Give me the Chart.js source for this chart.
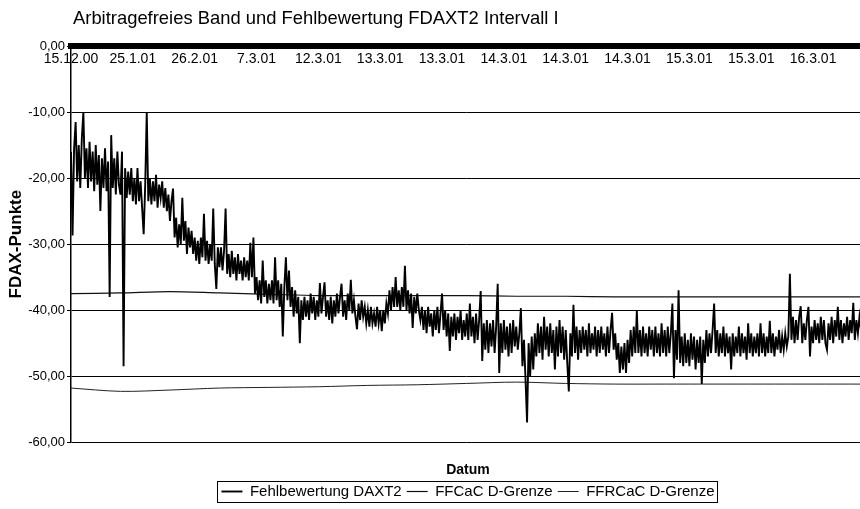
<!DOCTYPE html>
<html>
<head>
<meta charset="utf-8">
<title>Arbitragefreies Band und Fehlbewertung FDAXT2 Intervall I</title>
<script src="https://cdn.jsdelivr.net/npm/chart.js"></script>
<style>
    html, body { margin: 0; padding: 0; background: #fff; overflow: hidden; }
    #wrap { width: 936px; height: 509px; }
</style>
</head>
<body>
<div id="wrap"><canvas id="fdaxChart"></canvas></div>
<script>
// Datumsbeschriftung (alle 40 Werte eine)
const dateLabels = [
    '15.12.00', '25.1.01', '26.2.01', '7.3.01', '12.3.01',
    '13.3.01', '13.3.01', '14.3.01', '14.3.01', '14.3.01',
    '15.3.01', '15.3.01', '16.3.01'
];

// Fehlbewertung DAXT2 (32 Werte je Zeile)
const fehlbewertung = [
    -16.0, -28.7, -15.5, -11.5, -20.5, -15.0, -21.5, -14.0, -10.0, -20.0, -15.5, -21.5, -14.5, -20.5, -16.0, -22.0,
    -15.0, -21.0, -16.5, -25.0, -17.0, -21.5, -15.5, -22.0, -17.5, -38.0, -13.5, -21.5, -17.0, -22.5, -16.0, -21.0,
    -22.5, -16.0, -48.5, -18.5, -23.0, -19.0, -22.5, -18.5, -23.5, -20.0, -24.0, -18.5, -23.5, -20.5, -24.5, -28.5,
    -21.0, -10.0, -23.5, -20.0, -24.0, -20.5, -23.5, -19.5, -24.5, -21.0, -23.0, -20.5, -24.5, -21.5, -25.0, -22.5,
    -26.5, -23.5, -21.6, -29.0, -26.0, -30.5, -27.0, -30.0, -23.0, -29.5, -26.5, -31.5, -27.5, -30.5, -28.0, -31.5,
    -29.0, -32.5, -29.5, -33.0, -29.0, -32.0, -25.4, -32.5, -29.5, -33.0, -30.0, -32.5, -24.6, -33.0, -36.8, -30.5,
    -33.5, -30.5, -34.0, -31.0, -24.6, -34.5, -31.5, -35.0, -31.0, -34.5, -32.0, -35.5, -31.5, -34.5, -32.5, -35.5,
    -32.0, -35.0, -32.5, -35.5, -29.8, -35.0, -29.0, -37.5, -35.0, -38.5, -35.5, -39.0, -32.5, -38.0, -35.5, -39.0,
    -36.0, -38.5, -35.5, -39.0, -32.0, -38.5, -35.5, -39.5, -36.0, -44.0, -36.5, -32.0, -38.5, -34.0, -39.5, -36.5,
    -41.0, -37.0, -40.5, -38.0, -45.0, -38.5, -41.5, -38.0, -41.0, -38.5, -41.5, -37.5, -40.5, -38.0, -41.5, -38.5,
    -41.0, -35.9, -40.5, -38.0, -35.8, -41.0, -38.5, -41.5, -38.0, -42.0, -38.5, -41.0, -37.5, -40.5, -38.0, -36.0,
    -41.0, -38.5, -41.5, -37.5, -40.0, -35.4, -40.5, -38.5, -41.0, -42.9, -39.0, -41.5, -38.5, -41.0, -39.5, -42.0,
    -40.0, -42.5, -39.5, -42.0, -40.5, -42.5, -39.5, -42.0, -40.0, -43.2, -40.0, -42.0, -39.0, -40.5, -37.0, -40.0,
    -36.5, -39.5, -35.0, -39.5, -37.0, -40.0, -36.5, -39.5, -33.3, -40.0, -37.0, -40.5, -37.5, -42.7, -38.0, -40.5,
    -37.5, -40.0, -41.5, -39.5, -43.0, -40.0, -43.5, -39.5, -42.5, -40.5, -44.0, -40.0, -43.0, -39.5, -43.5, -40.5,
    -37.5, -43.0, -40.0, -44.0, -40.5, -46.2, -41.0, -44.0, -40.5, -44.5, -41.0, -43.5, -40.0, -44.5, -41.5, -44.0,
    -40.5, -44.5, -39.0, -44.0, -41.0, -45.0, -40.5, -44.5, -41.5, -37.1, -47.7, -42.0, -46.0, -41.5, -46.5, -42.0,
    -45.5, -41.5, -46.5, -42.5, -36.0, -49.5, -42.0, -46.5, -41.5, -46.0, -42.5, -47.0, -42.0, -46.5, -41.5, -45.5,
    -42.5, -46.0, -43.5, -39.7, -48.5, -44.5, -50.5, -57.0, -45.0, -50.0, -44.0, -49.0, -43.5, -47.0, -42.0, -46.5,
    -42.5, -47.5, -41.0, -46.0, -42.5, -47.0, -42.0, -46.5, -43.0, -49.0, -42.5, -47.0, -41.5, -46.5, -42.5, -47.5,
    -43.0, -48.0, -52.3, -43.5, -47.0, -39.2, -46.5, -42.5, -47.5, -43.0, -46.5, -42.5, -46.0, -43.0, -47.0, -42.0,
    -46.5, -43.5, -46.0, -42.5, -47.0, -43.0, -46.5, -42.5, -46.0, -43.5, -47.0, -42.5, -46.5, -43.0, -40.4, -46.0,
    -43.5, -47.5, -45.0, -49.5, -45.5, -49.0, -45.0, -49.5, -44.5, -48.0, -43.0, -47.0, -42.5, -46.5, -40.1, -46.5,
    -43.0, -47.0, -42.5, -46.5, -43.5, -47.0, -42.5, -46.0, -43.0, -47.0, -42.5, -46.5, -43.5, -47.0, -42.0, -46.5,
    -43.0, -47.0, -42.5, -46.5, -43.5, -39.0, -50.3, -43.0, -47.5, -37.0, -48.0, -44.0, -48.5, -43.5, -48.0, -44.5,
    -48.5, -43.5, -47.5, -44.0, -49.0, -44.5, -48.0, -44.0, -51.2, -44.5, -48.0, -43.0, -47.0, -43.5, -46.5, -43.0,
    -39.0, -46.5, -43.0, -47.0, -43.5, -46.5, -42.5, -47.0, -43.5, -46.5, -44.0, -49.0, -43.5, -47.0, -44.0, -46.5,
    -42.5, -47.0, -43.5, -46.5, -44.0, -47.5, -42.0, -46.5, -43.5, -47.0, -44.0, -46.5, -43.5, -47.0, -42.0, -46.5,
    -43.5, -47.0, -44.0, -46.5, -41.6, -46.5, -43.5, -47.0, -44.0, -46.0, -43.0, -46.5, -44.0, -46.0, -43.5, -45.5,
    -44.0, -34.5, -44.5, -41.0, -45.0, -41.5, -44.5, -41.0, -39.4, -45.0, -42.0, -44.5, -41.5, -39.5, -47.0, -42.5,
    -45.0, -41.5, -44.5, -42.0, -45.0, -41.0, -44.5, -41.5, -45.0, -46.0, -42.0, -44.5, -41.0, -45.0, -41.5, -44.0,
    -39.5, -44.5, -41.5, -45.0, -42.0, -44.0, -41.0, -44.5, -41.5, -43.5, -38.9, -44.5, -41.5, -43.5, -41.0, -43.0
];

// Grenzen des arbitragefreien Bandes (Stuetzstellen)
const grenzeIdx = [0, 32, 64, 96, 128, 160, 192, 224, 256, 288, 320, 352, 384, 416, 448, 480, 511];
const ffcacGrenze = [-37.5, -37.4, -37.2, -37.4, -37.6, -37.8, -37.8, -37.8, -37.8, -37.9, -37.9, -38.0, -38.0, -38.0, -38.0, -38.0, -38.0];
const ffrcacGrenze = [-51.8, -52.3, -52.1, -51.8, -51.7, -51.6, -51.4, -51.3, -51.1, -50.9, -51.1, -51.2, -51.2, -51.2, -51.2, -51.2, -51.2];

const titleText = 'Arbitragefreies Band und Fehlbewertung FDAXT2 Intervall I';

Chart.defaults.font.family = '"Liberation Sans", Arial, sans-serif';
Chart.defaults.color = '#000';

// Titel linksbuendig ueber der Zeichenflaeche
const leftTitle = {
    id: 'leftTitle',
    afterDraw(chart) {
        const ctx = chart.ctx;
        ctx.save();
        ctx.font = '18.4px "Liberation Sans", Arial, sans-serif';
        ctx.fillStyle = '#000';
        ctx.textBaseline = 'middle';
        ctx.fillText(titleText, chart.chartArea.left + 2, 19);
        ctx.restore();
    }
};

// Rahmen um die Legende
const legendFrame = {
    id: 'legendFrame',
    afterDraw(chart) {
        const boxes = chart.legend.legendHitBoxes;
        if (!boxes || !boxes.length) return;
        let l = Infinity, r = -Infinity, t = Infinity, b = -Infinity;
        boxes.forEach(h => {
            l = Math.min(l, h.left);
            r = Math.max(r, h.left + h.width);
            t = Math.min(t, h.top);
            b = Math.max(b, h.top + h.height);
        });
        const ctx = chart.ctx;
        ctx.save();
        ctx.strokeStyle = '#000';
        ctx.lineWidth = 1;
        ctx.strokeRect(Math.round(l - 4) + 0.5, Math.round(t - 3) + 0.5, Math.round(r - l + 7), Math.round(b - t + 6));
        ctx.restore();
    }
};

const ctx = document.getElementById('fdaxChart').getContext('2d');
const fdaxChart = new Chart(ctx, {
    type: 'line',
    data: {
        datasets: [
            {
                label: 'Fehlbewertung DAXT2',
                data: fehlbewertung.map((v, i) => ({ x: i, y: v })),
                borderColor: '#000',
                backgroundColor: '#000',
                borderWidth: 1.9,
                pointRadius: 0,
                tension: 0
            },
            {
                label: 'FFCaC D-Grenze',
                data: grenzeIdx.map((x, k) => ({ x: x, y: ffcacGrenze[k] })),
                borderColor: '#111',
                backgroundColor: '#111',
                borderWidth: 1.2,
                pointRadius: 0,
                tension: 0.3
            },
            {
                label: 'FFRCaC D-Grenze',
                data: grenzeIdx.map((x, k) => ({ x: x, y: ffrcacGrenze[k] })),
                borderColor: '#222',
                backgroundColor: '#222',
                borderWidth: 1,
                pointRadius: 0,
                tension: 0.3
            }
        ]
    },
    options: {
        responsive: true,
        maintainAspectRatio: false,
        animation: false,
        layout: {
            padding: { top: 46, right: 0, left: 0, bottom: 0 }
        },
        scales: {
            x: {
                type: 'linear',
                min: 0,
                max: 511,
                position: { y: 0 }, // Achse bei 0 (oben)
                grid: { display: true, drawOnChartArea: false, drawTicks: false },
                border: { display: true, color: '#000', width: 6 },
                ticks: {
                    stepSize: 40,
                    autoSkip: false,
                    maxRotation: 0,
                    minRotation: 0,
                    padding: 5,
                    color: '#000',
                    font: { size: 14 },
                    callback: (v) => (v % 40 === 0 && dateLabels[v / 40]) ? dateLabels[v / 40] : ''
                }
            },
            y: {
                min: -60,
                max: 0,
                ticks: {
                    stepSize: 10,
                    padding: 2,
                    color: '#000',
                    font: { size: 13 },
                    callback: (v) => v.toFixed(2).replace('.', ',')
                },
                grid: { color: '#000', lineWidth: 1, tickLength: 4 },
                border: { color: '#000', width: 1.5 },
                title: {
                    display: true,
                    text: 'FDAX-Punkte',
                    color: '#000',
                    font: { size: 17, weight: 'bold' },
                    padding: { top: 6, bottom: 0 }
                },
                afterFit(scale) { scale.width = 71; }
            },
            // leerer Rand rechts (Diagramm im Original abgeschnitten)
            rand: {
                position: 'right',
                display: true,
                grid: { display: false },
                border: { display: false },
                ticks: { display: false },
                afterFit(scale) { scale.width = 75; }
            }
        },
        plugins: {
            title: { display: false },
            subtitle: {
                display: true,
                text: 'Datum',
                position: 'bottom',
                weight: 500,
                color: '#000',
                font: { size: 14, weight: 'bold' },
                padding: { top: 20, bottom: 0 }
            },
            legend: {
                position: 'bottom',
                weight: 1000,
                labels: {
                    color: '#000',
                    font: { size: 15 },
                    usePointStyle: true,
                    pointStyle: 'line',
                    pointStyleWidth: 21,
                    padding: 5
                }
            },
            tooltip: { enabled: false }
        }
    },
    plugins: [leftTitle, legendFrame]
});
</script>
</body>
</html>
